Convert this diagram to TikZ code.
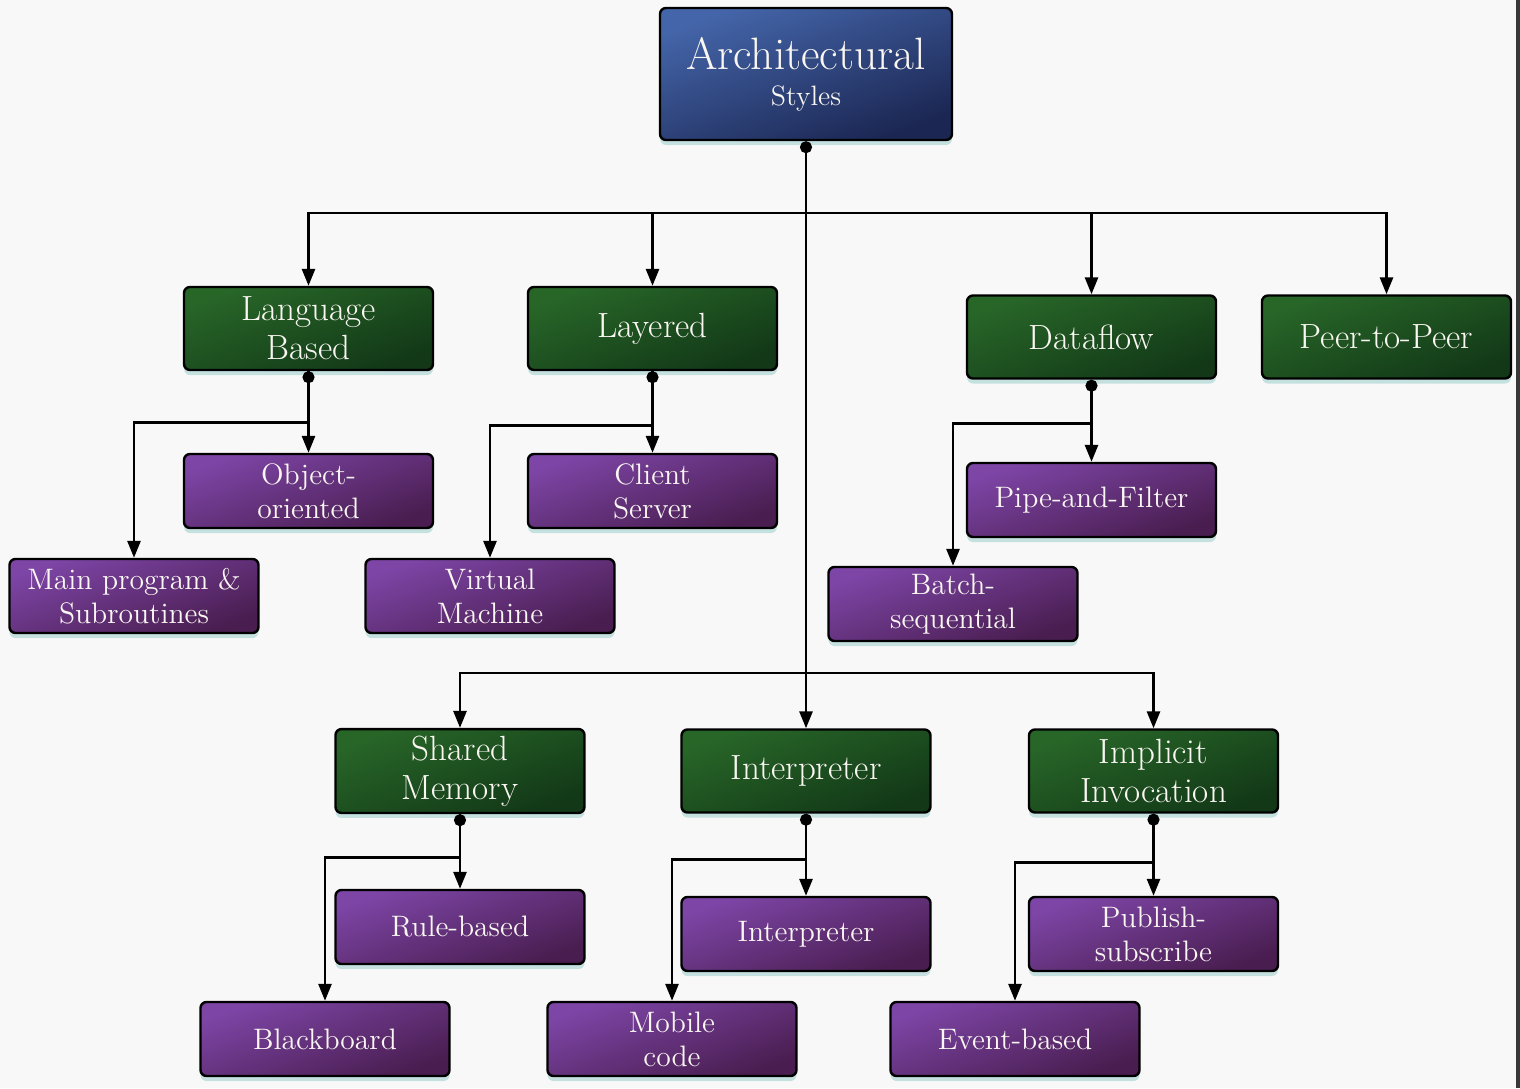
\documentclass[tikz,border=0pt]{standalone}
\usepackage{xcolor}
\definecolor{RootTop}{HTML}{4465A9}
\definecolor{RootBot}{HTML}{1B2652}
\definecolor{GreenTop}{HTML}{286628}
\definecolor{GreenBot}{HTML}{123817}
\definecolor{PlumTop}{HTML}{7D45A6}
\definecolor{PlumBot}{HTML}{491D4F}
\definecolor{Paper}{HTML}{F8F8F8}
\definecolor{Ink}{HTML}{FAF7F2}
\definecolor{Glow}{HTML}{9CCFCB}
\definecolor{Edge}{HTML}{383838}
\usepackage{tikz}
\usetikzlibrary{arrows.meta,shadows}

\begin{document}
\begin{tikzpicture}[x=0.5pt,y=-0.5pt,
  every node/.style={align=center,text=Ink},
  box/.style={draw=black,line width=1.2pt,rounded corners=3pt,minimum width=124.5pt,
    drop shadow={fill=Glow,opacity=0.55,shadow xshift=0pt,shadow yshift=-2.5pt}},
  rootbox/.style={box,top color=RootTop,bottom color=RootBot,shading angle=20,minimum width=146pt,minimum height=66pt},
  group/.style={box,top color=GreenTop,bottom color=GreenBot,shading angle=20,minimum height=41.5pt,font=\fontsize{17.5}{19.5}\selectfont},
  leaf/.style={box,top color=PlumTop,bottom color=PlumBot,shading angle=20,minimum height=37pt,font=\fontsize{14.8}{17}\selectfont},
  link/.style={line width=1.4pt,-{Triangle[length=8.5pt,width=6.5pt]}},
  fork/.style={link,{Circle[length=6pt]}-{Triangle[length=8.5pt,width=6.5pt]}}]
\fill[Paper] (0,0) rectangle (1520,1088);
\fill[Edge] (1516,0) rectangle (1520,1088);
\node[rootbox] (root) at (806,74) {{\fontsize{22.7}{25}\selectfont Architectural}\\[6pt]{\fontsize{14}{16}\selectfont Styles}};
\node[group] (lang) at (308.5,328.5) {Language\\Based};
\node[group] (layer) at (652.5,328.5) {Layered};
\node[group] (flow) at (1091.5,337) {Dataflow};
\node[group] (peer) at (1386.5,337) {Peer-to-Peer};
\node[leaf] (objo) at (308.5,491) {Object-\\oriented};
\node[leaf] (clsv) at (652.5,491) {Client\\Server};
\node[leaf] (mainp) at (134,596) {Main program \&\\Subroutines};
\node[leaf] (virt) at (490,596) {Virtual\\Machine};
\node[leaf] (pipe) at (1091.5,500) {Pipe-and-Filter};
\node[leaf] (batch) at (953,604) {Batch-\\sequential};
\node[group] (shmem) at (460,771) {Shared\\Memory};
\node[group] (interp) at (806,771) {Interpreter};
\node[group] (implic) at (1153.5,771) {Implicit\\Invocation};
\node[leaf] (rule) at (460,927) {Rule-based};
\node[leaf] (interpl) at (806,934) {Interpreter};
\node[leaf] (pubsub) at (1153.5,934) {Publish-\\subscribe};
\node[leaf] (black) at (325,1039) {Blackboard};
\node[leaf] (mobile) at (672,1039) {Mobile\\code};
\node[leaf] (event) at (1015,1039) {Event-based};
\coordinate (topbus) at (806,213);
\coordinate (lowbus) at (806,673);
\draw[fork] (root.south) -- (interp.north);
\draw[link] (topbus) -| (lang.north);
\draw[link] (topbus) -| (layer.north);
\draw[link] (topbus) -| (flow.north);
\draw[link] (topbus) -| (peer.north);
\draw[link] (lowbus) -| (shmem.north);
\draw[link] (lowbus) -| (implic.north);
\draw[fork] (lang.south) -- (objo.north);
\draw[link] (lang.south) -- ++(0,51) -| (mainp.north);
\draw[fork] (layer.south) -- (clsv.north);
\draw[link] (layer.south) -- ++(0,54) -| (virt.north);
\draw[fork] (flow.south) -- (pipe.north);
\draw[link] (flow.south) -- ++(0,44) -| (batch.north);
\draw[fork] (shmem.south) -- (rule.north);
\draw[link] (shmem.south) -- ++(0,43) -| (black.north);
\draw[fork] (interp.south) -- (interpl.north);
\draw[link] (interp.south) -- ++(0,46) -| (mobile.north);
\draw[fork] (implic.south) -- (pubsub.north);
\draw[link] (implic.south) -- ++(0,49) -| (event.north);
\end{tikzpicture}
\end{document}
